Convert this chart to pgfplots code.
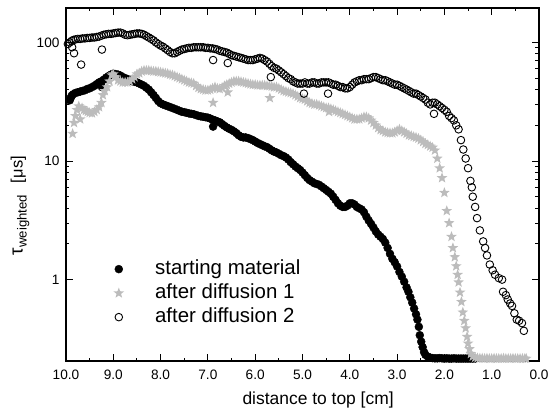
\documentclass[border=0pt]{standalone}
\usepackage{pgfplots}
\pgfplotsset{compat=1.18}
\usepackage{fontspec}
\setmainfont{Liberation Sans}
\definecolor{stargray}{RGB}{188,188,188}
\pgfdeclareplotmark{fstar}{%
  \pgfpathmoveto{\pgfpointpolar{90}{\pgfplotmarksize}}%
  \pgfpathlineto{\pgfpointpolar{126}{0.42\pgfplotmarksize}}%
  \pgfpathlineto{\pgfpointpolar{162}{\pgfplotmarksize}}%
  \pgfpathlineto{\pgfpointpolar{198}{0.42\pgfplotmarksize}}%
  \pgfpathlineto{\pgfpointpolar{234}{\pgfplotmarksize}}%
  \pgfpathlineto{\pgfpointpolar{270}{0.42\pgfplotmarksize}}%
  \pgfpathlineto{\pgfpointpolar{306}{\pgfplotmarksize}}%
  \pgfpathlineto{\pgfpointpolar{342}{0.42\pgfplotmarksize}}%
  \pgfpathlineto{\pgfpointpolar{18}{\pgfplotmarksize}}%
  \pgfpathlineto{\pgfpointpolar{54}{0.42\pgfplotmarksize}}%
  \pgfpathclose
  \pgfusepathqfill}
\begin{document}
\begin{tikzpicture}
\useasboundingbox (-66bp,-53bp) rectangle (490bp,361bp);
\begin{axis}[
  at={(0,0)}, anchor=south west,
  scale only axis, width=473bp, height=353bp,
  x dir=reverse, xmin=0, xmax=10,
  xtick={0,1,...,10}, minor x tick num=1,
  xticklabel style={/pgf/number format/fixed, /pgf/number format/precision=1, /pgf/number format/zerofill, yshift=-5bp},
  ymode=log, ymin=0.206, ymax=195,
  ytick={1,10,100}, yticklabels={1,10,100},
  /pgf/number format/assume math mode=true,
  tick align=inside,
  major tick length=7bp, minor tick length=3.5bp,
  axis line style={line width=1.4bp},
  every tick/.style={line width=1bp, black},
  tick label style={font=\fontsize{13.7}{16}\selectfont},
  yticklabel style={xshift=-3bp},
  xlabel={distance to top [cm]},
  xlabel style={font=\fontsize{17.5}{21}\selectfont, at={(axis description cs:0.533,-0.11)}, anchor=center},
  ylabel={τ\raisebox{-0.4ex}{\fontsize{13.2}{15}\selectfont weighted}\hspace{12bp}{\fontsize{16.5}{19}\selectfont [μs]}},
  ylabel style={font=\fontsize{19}{22}\selectfont, at={(axis description cs:-0.097,0.44)}, anchor=center},
  legend style={draw=none, fill=none, inner sep=0pt, outer sep=0pt,
    at={(axis description cs:0.1004,0.29)}, anchor=north west,
    font=\fontsize{20.5}{23}\selectfont, row sep=3bp, column sep=30bp,
    nodes={inner sep=1bp, text height=15bp, text depth=4bp}},
  legend cell align=left,
]
\addplot[only marks, mark=*, mark size=4bp, black] table {
9.92 32.5
9.90 34
9.88 35.5
9.85 36.5
9.80 37.5
9.75 38
9.70 38.5
9.65 39
9.60 39.5
9.55 40.5
9.50 41
9.45 42
9.40 43
9.35 44.5
9.30 46
9.25 47
9.24 42
9.20 48.5
9.15 50.5
9.10 52
9.05 53.5
9.00 54.5
8.95 54
8.90 53.5
8.85 52.5
8.80 51
8.75 50
8.70 49
8.65 48.5
8.60 47
8.55 46.5
8.50 46
8.45 45
8.40 44
8.35 43
8.30 41.5
8.25 40
8.20 38
8.15 36
8.10 34
8.05 32
8.00 30.7
7.95 30
7.90 29.5
7.85 29
7.80 28.5
7.75 28
7.70 27.5
7.65 27
7.60 26.5
7.55 26
7.50 25.8
7.45 25.5
7.40 25.2
7.35 25
7.30 24.8
7.25 24.4
7.20 24
7.15 23.8
7.10 23.6
7.05 23.4
7.00 23.2
6.95 22.8
6.90 22.3
6.89 19.5
6.85 22
6.80 21.6
6.75 21.2
6.70 20.5
6.65 19.8
6.60 19.2
6.55 18.7
6.50 18.3
6.45 17.8
6.40 17.2
6.35 16.5
6.30 16
6.25 15.8
6.20 15.8
6.15 15.6
6.10 15.3
6.05 15
6.00 14.6
5.95 14.2
5.90 13.9
5.85 13.6
5.80 13.3
5.75 13.1
5.70 12.7
5.65 12.3
5.60 12
5.55 11.8
5.50 11.5
5.45 11.2
5.40 11
5.35 10.7
5.30 10.3
5.25 9.8
5.20 9.4
5.15 9.0
5.10 8.7
5.05 8.4
5.00 8.0
4.95 7.6
4.90 7.2
4.85 6.9
4.80 6.7
4.75 6.5
4.70 6.4
4.65 6.3
4.60 6.1
4.55 5.9
4.50 5.7
4.45 5.5
4.40 5.3
4.35 5.0
4.30 4.7
4.25 4.4
4.20 4.2
4.15 4.1
4.10 4.1
4.05 4.2
4.00 4.4
3.95 4.4
3.90 4.3
3.85 4.1
3.80 4.0
3.75 3.9
3.70 3.7
3.65 3.4
3.60 3.15
3.55 2.95
3.50 2.75
3.45 2.55
3.40 2.4
3.35 2.3
3.30 2.2
3.25 2.05
3.20 1.85
3.15 1.65
3.10 1.5
3.05 1.4
3.00 1.29
2.95 1.16
2.90 1.06
2.85 0.96
2.80 0.86
2.76 0.79
2.72 0.71
2.68 0.64
2.64 0.57
2.60 0.51
2.57 0.46
2.54 0.40
2.52 0.34
2.49 0.30
2.46 0.27
2.43 0.245
2.40 0.232
2.35 0.224
2.30 0.220
2.25 0.218
2.20 0.217
2.15 0.217
2.10 0.218
2.05 0.217
2.00 0.216
1.95 0.217
1.90 0.216
1.85 0.216
1.80 0.217
1.75 0.216
1.70 0.216
1.65 0.216
1.60 0.216
1.55 0.216
1.50 0.216
1.45 0.216
1.40 0.216
1.35 0.216
};
\addlegendentry{starting material}
\addplot[only marks, mark=fstar, mark size=5.6bp, stargray] table {
9.86 17
9.83 21
9.80 24
9.77 27
9.73 29
9.70 22.5
9.66 28
9.62 27
9.58 26.5
9.54 26
9.50 25.5
9.45 25.3
9.40 26
9.35 27
9.30 28.5
9.25 31
9.22 36
9.18 39
9.13 42
9.08 47
9.03 53
9.00 54
8.95 51
8.90 48
8.85 47
8.80 46
8.75 46
8.70 46
8.65 47
8.60 49
8.55 51
8.50 54
8.45 55
8.40 57
8.35 58
8.30 58
8.25 58
8.20 57.5
8.15 57
8.10 57
8.05 56.5
8.00 56
7.95 55.5
7.90 55
7.85 54.5
7.80 53.5
7.75 53
7.70 52
7.65 51
7.60 50
7.55 49
7.50 48
7.45 47
7.40 46
7.35 45.5
7.30 45
7.25 43
7.20 41.5
7.15 40.5
7.10 40
7.05 39.5
7.00 39.5
6.95 40
6.90 41
6.89 31
6.85 42
6.80 41
6.75 40.5
6.70 41.5
6.65 43
6.60 44
6.58 38
6.55 45
6.50 46
6.45 47
6.40 47
6.35 47
6.30 46.5
6.25 46
6.20 45.5
6.15 45
6.10 44.5
6.05 44
6.00 44
5.95 43.5
5.90 43.5
5.85 43.5
5.80 43.5
5.75 43
5.70 43
5.69 34
5.65 42.5
5.60 42
5.55 42
5.50 41
5.45 40
5.40 39
5.35 38.5
5.30 38
5.25 37.5
5.20 37
5.15 36
5.10 35
5.05 34
5.00 33.5
4.95 33
4.90 32
4.85 31
4.80 30.5
4.75 30
4.70 30
4.65 29.5
4.60 29
4.55 28.5
4.50 28
4.45 28
4.44 26
4.40 27.5
4.35 27
4.30 26.5
4.25 26
4.20 25.5
4.15 25
4.10 24.5
4.05 24
4.00 23.5
3.95 23
3.90 22.5
3.85 22.5
3.80 22.5
3.75 23
3.70 23.5
3.65 23.5
3.60 23
3.55 22
3.50 21
3.45 20
3.40 19
3.35 18.3
3.30 18
3.25 17.5
3.20 17.3
3.15 17.2
3.10 17.2
3.05 17.5
3.00 18
2.95 18.5
2.90 18
2.85 17.5
2.80 17
2.75 16.5
2.70 16.3
2.65 16
2.60 15.8
2.55 15.5
2.50 15
2.45 14.5
2.40 14
2.35 13.7
2.30 13.3
2.25 13
2.20 12.3
2.15 10.5
2.10 8.7
2.05 7.2
2.00 5.4
1.95 3.8
1.90 3.0
1.85 2.3
1.82 1.85
1.78 1.55
1.75 1.3
1.72 1.1
1.70 0.95
1.67 0.78
1.64 0.65
1.61 0.53
1.58 0.45
1.55 0.39
1.52 0.33
1.50 0.29
1.47 0.26
1.44 0.237
1.40 0.225
1.35 0.220
1.30 0.218
1.25 0.217
1.20 0.217
1.15 0.216
1.10 0.217
1.05 0.216
1.00 0.216
0.95 0.217
0.90 0.216
0.85 0.216
0.80 0.216
0.75 0.217
0.70 0.216
0.65 0.216
0.60 0.216
0.55 0.217
0.50 0.216
0.45 0.216
0.40 0.216
0.35 0.216
0.30 0.216
0.27 0.216
};
\addlegendentry{after diffusion 1}
\addplot[only marks, mark=o, mark size=3.8bp, black, line width=0.9bp, mark options={fill=white}] table {
9.96 97
9.87 91
9.83 81
9.68 65
9.24 87
9.92 100
9.88 103
9.84 105
9.80 106
9.75 107
9.70 107
9.65 108
9.60 108
9.55 109
9.50 109
9.45 110
9.40 110
9.35 111
9.30 112
9.25 114
9.20 116
9.15 117
9.10 118
9.05 118
9.00 119
8.95 120
8.90 121
8.85 121
8.80 119
8.75 116
8.70 115
8.65 116
8.60 117
8.55 118
8.50 119
8.45 119
8.40 118
8.35 116
8.30 113
8.25 110
8.20 107
8.15 104
8.10 100
8.05 97
8.00 94
7.95 92
7.90 89
7.85 86
7.80 83
7.75 81
7.70 81
7.65 83
7.60 85
7.55 87
7.50 88
7.45 89
7.40 90
7.35 90
7.30 91
7.25 91
7.20 91
7.15 91
7.10 91
7.05 90
7.00 90
6.95 89
6.90 89
6.89 71
6.85 88
6.80 87
6.75 85
6.70 84
6.65 83
6.60 82
6.58 67
6.55 80
6.50 78
6.45 77
6.40 76
6.35 75
6.30 74
6.25 73
6.20 72
6.15 71
6.10 71
6.05 71
6.00 72
5.95 73
5.90 74
5.85 73
5.80 71
5.75 69
5.70 66
5.67 51
5.65 63
5.60 61
5.55 60
5.50 58
5.45 56
5.40 54
5.35 52
5.30 50
5.25 49
5.20 47
5.15 46
5.10 45
5.05 45
5.00 45
4.97 37
4.95 46
4.90 45
4.85 45
4.80 46
4.75 46
4.70 45
4.65 45
4.60 46
4.55 46
4.50 46
4.46 37
4.45 46
4.40 45
4.35 44
4.30 44
4.25 43
4.20 42
4.15 42
4.10 41
4.05 41
4.00 42
3.95 44
3.90 46
3.85 47
3.80 48
3.75 48
3.70 49
3.65 49
3.60 49
3.55 50
3.50 51
3.45 51
3.40 50
3.35 49
3.30 48
3.25 48
3.20 47
3.15 46
3.10 45
3.05 44
3.00 44
2.95 43
2.90 42
2.85 41
2.80 40
2.75 39
2.70 38
2.65 37
2.60 37
2.55 36
2.50 35
2.45 34
2.40 33
2.35 31
2.30 30
2.25 31
2.22 25
2.20 31
2.15 30
2.10 29
2.05 28
2.00 27
1.95 26
1.90 24
1.85 23
1.80 22
1.75 20
1.70 18.5
1.65 15
1.60 12.5
1.55 10.5
1.50 8.7
1.45 6.8
1.42 6.0
1.40 5.0
1.35 4.1
1.31 3.3
1.25 2.6
1.18 2.1
1.14 1.85
1.10 1.6
1.04 1.34
0.98 1.2
0.93 1.1
0.85 1.03
0.78 1.0
0.76 0.79
0.70 0.74
0.66 0.68
0.61 0.63
0.57 0.60
0.52 0.52
0.47 0.46
0.42 0.45
0.36 0.43
0.32 0.37
};
\addlegendentry{after diffusion 2}
\end{axis}
\end{tikzpicture}
\end{document}
